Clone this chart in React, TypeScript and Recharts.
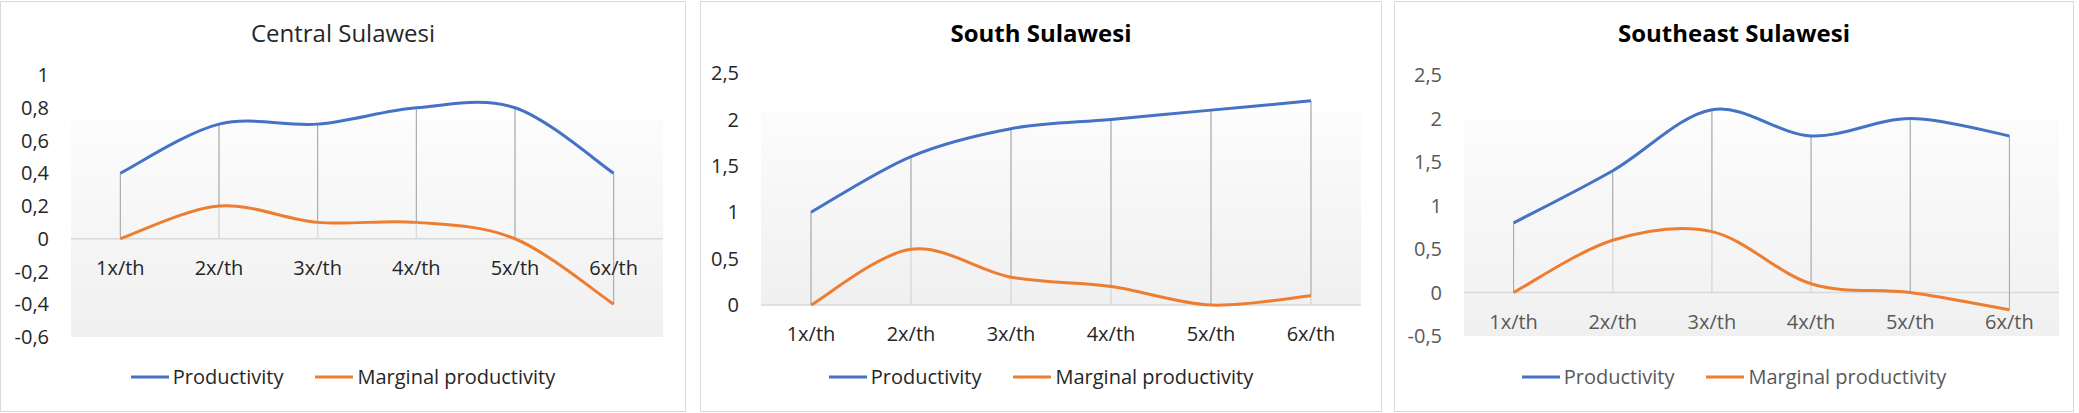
import {
  CartesianGrid,
  ComposedChart,
  Legend,
  Line,
  ReferenceDot,
  ReferenceLine,
  XAxis,
  YAxis,
} from 'recharts'

const categories = ['1x/th', '2x/th', '3x/th', '4x/th', '5x/th', '6x/th']

const centralProductivity = [0.4, 0.7, 0.7, 0.8, 0.8, 0.4]
const centralMarginal = [0, 0.2, 0.1, 0.1, 0, -0.4]
const centralTicks = [-0.6, -0.4, -0.2, 0, 0.2, 0.4, 0.6, 0.8, 1]

const southProductivity = [1, 1.6, 1.9, 2, 2.1, 2.2]
const southMarginal = [0, 0.6, 0.3, 0.2, 0, 0.1]
const southTicks = [0, 0.5, 1, 1.5, 2, 2.5]

const southeastProductivity = [0.8, 1.4, 2.1, 1.8, 2, 1.8]
const southeastMarginal = [0, 0.6, 0.7, 0.1, 0, -0.2]
const southeastTicks = [-0.5, 0, 0.5, 1, 1.5, 2, 2.5]

const seriesOrder = ['productivity', 'marginal']

const FONT = "'Open Sans', 'Noto Sans', sans-serif"
const BLUE = '#4472C4'
const ORANGE = '#ED7D31'
const Y_AXIS_W = 60

// excel style smoothing: catmull-rom through the points, ends doubled
function excelSmooth(context: any) {
  let pts: Array<[number, number]> = []
  return {
    areaStart() {},
    areaEnd() {},
    lineStart() {
      pts = []
    },
    lineEnd() {
      const n = pts.length
      if (!n) return
      context.moveTo(pts[0][0], pts[0][1])
      for (let i = 0; i < n - 1; i++) {
        const p0 = pts[Math.max(i - 1, 0)]
        const p1 = pts[i]
        const p2 = pts[i + 1]
        const p3 = pts[Math.min(i + 2, n - 1)]
        context.bezierCurveTo(
          p1[0] + (p2[0] - p0[0]) / 6,
          p1[1] + (p2[1] - p0[1]) / 6,
          p2[0] - (p3[0] - p1[0]) / 6,
          p2[1] - (p3[1] - p1[1]) / 6,
          p2[0],
          p2[1],
        )
      }
    },
    point(x: number, y: number) {
      pts.push([+x, +y])
    },
  }
}

const fmt = (v: number) => String(v).replace('.', ',')

const legendContent = (color: string) => (props: any) => {
  const items = [...(props.payload ?? [])].sort(
    (a: any, b: any) => seriesOrder.indexOf(a.dataKey) - seriesOrder.indexOf(b.dataKey),
  )
  return (
    <div
      style={{
        display: 'flex',
        justifyContent: 'center',
        alignItems: 'center',
        gap: 32,
        height: 28,
        lineHeight: '28px',
        fontSize: 20,
        fontFamily: FONT,
        color,
      }}
    >
      {items.map((p: any) => (
        <div key={p.value} style={{ display: 'flex', alignItems: 'center' }}>
          <svg width={38} height={4} style={{ marginRight: 4 }}>
            <line x1={0} y1={2} x2={38} y2={2} stroke={p.color} strokeWidth={3} />
          </svg>
          <span>{p.value}</span>
        </div>
      ))}
    </div>
  )
}

type PanelProps = {
  id: string
  title: string
  bold: boolean
  productivity: number[]
  marginal: number[]
  ticks: number[]
  left: number
  width: number
  margin: { top: number; right: number; bottom: number; left: number }
  textColor: string
  titleColor: string
}

function Panel({ id, title, bold, productivity, marginal, ticks, left, width, margin, textColor, titleColor }: PanelProps) {
  const data = categories.map((category, i) => ({
    category,
    productivity: productivity[i],
    marginal: marginal[i],
  }))
  const innerW = width - 2
  const innerH = 409
  const plotW = innerW - margin.left - Y_AXIS_W - margin.right
  const halfBand = plotW / categories.length / 2
  return (
    <div
      style={{
        position: 'absolute',
        left,
        top: 1,
        width,
        height: 411,
        boxSizing: 'border-box',
        border: '1px solid #d9d9d9',
        background: '#fff',
        fontFamily: FONT,
      }}
    >
      <ComposedChart width={innerW} height={innerH} data={data} margin={margin} style={{ fontFamily: FONT }}>
        <defs>
          <linearGradient id={`plotFill-${id}`} x1="0" y1="0" x2="0" y2="1">
            <stop offset="0%" stopColor="#ffffff" />
            <stop offset="17%" stopColor="#ffffff" />
            <stop offset="17%" stopColor="#fcfcfc" />
            <stop offset="100%" stopColor="#f0f0f0" />
          </linearGradient>
        </defs>
        <CartesianGrid horizontal={false} vertical={false} fill={`url(#plotFill-${id})`} />
        <XAxis dataKey="category" hide padding={{ left: halfBand, right: halfBand }} />
        <YAxis
          domain={[ticks[0], ticks[ticks.length - 1]]}
          ticks={ticks}
          interval={0}
          tickFormatter={fmt}
          axisLine={false}
          tickLine={false}
          tickSize={0}
          tickMargin={22}
          width={Y_AXIS_W}
          tick={{ fill: textColor, fontSize: 20, fontFamily: FONT }}
        />
        <ReferenceLine y={0} stroke="#d9d9d9" strokeWidth={1.5} />
        {data.map((d) =>
          [d.productivity, d.marginal]
            .filter((v) => v !== 0)
            .map((v, k) => (
              <ReferenceLine
                key={`drop-${d.category}-${k}`}
                segment={[
                  { x: d.category, y: v },
                  { x: d.category, y: 0 },
                ]}
                stroke="#d9d9d9"
                strokeWidth={1}
              />
            )),
        )}
        {data.map((d) => (
          <ReferenceLine
            key={`hl-${d.category}`}
            segment={[
              { x: d.category, y: d.productivity },
              { x: d.category, y: d.marginal },
            ]}
            stroke="#a6a6a6"
            strokeWidth={1}
          />
        ))}
        {data.map((d) => (
          <ReferenceDot
            key={`lbl-${d.category}`}
            x={d.category}
            y={0}
            r={0}
            fill="none"
            stroke="none"
            label={{ value: d.category, position: 'bottom', offset: 22, fill: textColor, fontSize: 20, fontFamily: FONT }}
          />
        ))}
        <Line
          name="Productivity"
          dataKey="productivity"
          type={excelSmooth as any}
          stroke={BLUE}
          strokeWidth={3}
          dot={false}
          activeDot={false}
          isAnimationActive={false}
        />
        <Line
          name="Marginal productivity"
          dataKey="marginal"
          type={excelSmooth as any}
          stroke={ORANGE}
          strokeWidth={3}
          dot={false}
          activeDot={false}
          isAnimationActive={false}
        />
        <Legend
          layout="horizontal"
          verticalAlign="middle"
          align="center"
          content={legendContent(textColor)}
          wrapperStyle={{ top: 361, left: 0, width: innerW, height: 28 }}
        />
      </ComposedChart>
      <div
        style={{
          position: 'absolute',
          left: 0,
          right: 0,
          top: 16,
          textAlign: 'center',
          fontSize: 24,
          lineHeight: '30px',
          fontWeight: bold ? 700 : 400,
          color: titleColor,
          pointerEvents: 'none',
        }}
      >
        {title}
      </div>
    </div>
  )
}

export default function App() {
  return (
    <div style={{ position: 'absolute', left: 0, top: 0, width: 2079, height: 413, background: '#fff' }}>
      <Panel
        id="central"
        title="Central Sulawesi"
        bold={false}
        productivity={centralProductivity}
        marginal={centralMarginal}
        ticks={centralTicks}
        left={0}
        width={686}
        margin={{ top: 73, right: 22, bottom: 74, left: 10 }}
        textColor="#262626"
        titleColor="#262626"
      />
      <Panel
        id="south"
        title="South Sulawesi"
        bold
        productivity={southProductivity}
        marginal={southMarginal}
        ticks={southTicks}
        left={700}
        width={682}
        margin={{ top: 71, right: 20, bottom: 106, left: 0 }}
        textColor="#262626"
        titleColor="#000000"
      />
      <Panel
        id="southeast"
        title="Southeast Sulawesi"
        bold
        productivity={southeastProductivity}
        marginal={southeastMarginal}
        ticks={southeastTicks}
        left={1394}
        width={680}
        margin={{ top: 73, right: 14, bottom: 75, left: 9 }}
        textColor="#595959"
        titleColor="#000000"
      />
    </div>
  )
}
